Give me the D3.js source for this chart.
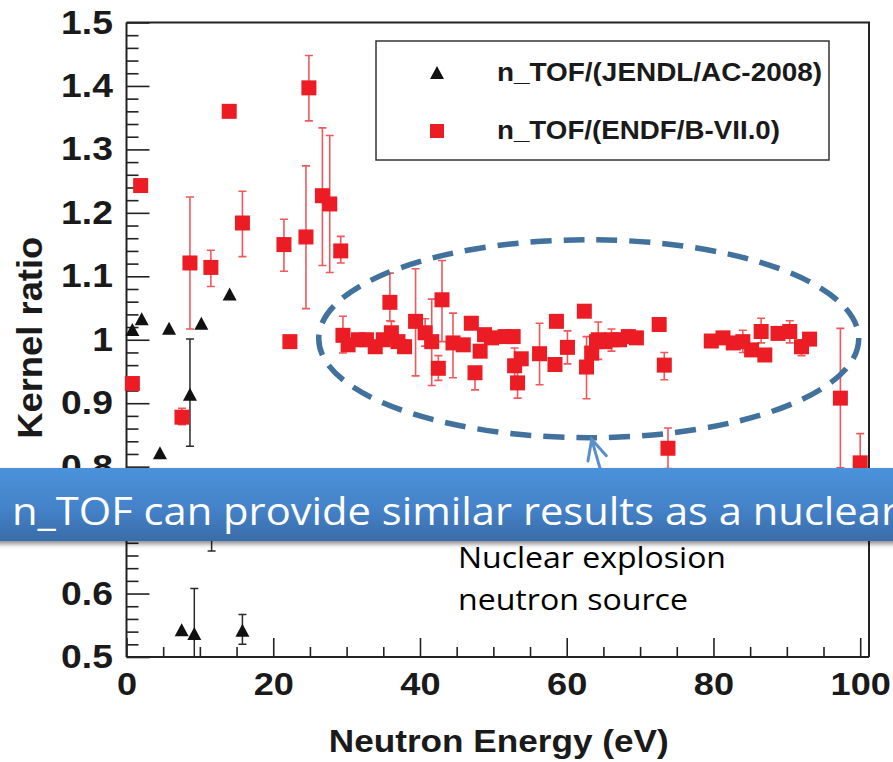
<!DOCTYPE html>
<html>
<head>
<meta charset="utf-8">
<script src="https://cdn.jsdelivr.net/npm/d3@7"></script>
<style>
  html, body { margin: 0; padding: 0; background: #fff; }
  svg { display: block; }
</style>
</head>
<body>
<svg id="chart" width="893" height="762"></svg>
<script>
// ---- n_TOF / JENDL/AC-2008 kernel ratios (black triangles) ----
const jendlEnergy = [0.8, 2.07, 4.56, 5.8, 7.52, 8.65, 9.24, 10.2, 11.6, 14.06, 15.8];
const jendlRatio  = [1.016, 1.033, 0.822, 1.018, 0.543, 0.914, 0.537, 1.026, 0.72, 1.072, 0.542];
const jendlLow    = [null, null, null, null, null, 0.832, 0.466, null, 0.667, null, 0.520];
const jendlHigh   = [null, null, null, null, null, 1.001, 0.608, null, 0.773, null, 0.567];

// ---- n_TOF / ENDF/B-VII.0 kernel ratios (red squares) ----
const endfEnergy = [0.8, 1.93, 7.56, 8.65, 11.5, 14.0, 15.8, 21.46, 22.27, 24.46,
  24.86, 26.7, 27.7, 29.2, 29.5, 30.2, 31.6, 32.7, 33.9, 35.0,
  35.9, 36.1, 37.0, 37.9, 39.4, 40.7, 41.6, 42.5, 43.0, 44.5,
  45.9, 47.0, 47.5, 48.2, 48.8, 49.75, 51.6, 52.7, 52.9, 53.3,
  53.8, 56.3, 58.4, 58.6, 60.1, 62.4, 62.7, 63.4, 64.06, 64.3,
  65.2, 66.1, 67.2, 68.4, 69.5, 72.6, 73.3, 73.8, 79.7, 81.3,
  82.7, 84.0, 85.2, 86.5, 87.0, 88.8, 90.4, 92.0, 93.1, 97.3,
  100.0];
const endfRatio = [0.931, 1.243, 0.878, 1.121, 1.114, 1.360, 1.184, 1.150, 0.997, 1.162,
  1.397, 1.227, 1.214, 1.140, 1.007, 0.992, 1.000, 1.000, 0.989, 1.000,
  1.059, 1.011, 0.997, 0.989, 1.029, 1.011, 0.997, 0.955, 1.063, 0.995,
  0.992, 1.026, 0.948, 0.982, 1.008, 1.003, 1.005, 1.005, 0.959, 0.932,
  0.970, 0.978, 0.961, 1.029, 0.988, 1.045, 0.957, 0.979, 0.997, 1.000,
  0.997, 1.000, 1.000, 1.005, 1.003, 1.024, 0.960, 0.829, 0.998, 1.003,
  0.995, 0.997, 0.984, 1.013, 0.976, 1.010, 1.013, 0.989, 1.001, 0.908,
  0.806];
const endfLow = [null, null, 0.866, 1.017, 1.084, null, 1.131, 1.108, null, 1.049,
  1.345, 1.117, 1.106, 1.121, 0.979, null, null, null, null, null,
  1.030, 0.995, null, 0.979, 0.943, 0.990, 0.928, 0.936, 0.997, 0.940,
  null, null, 0.921, null, null, null, null, null, 0.940, 0.908,
  null, 0.929, null, null, 0.962, null, 0.907, null, null, 0.969,
  null, 0.982, null, null, null, null, 0.937, 0.797, null, null,
  null, 0.980, null, 0.995, null, null, 0.995, 0.975, null, 0.798,
  0.760];
const endfHigh = [null, null, 0.892, 1.225, 1.141, null, 1.234, 1.190, null, 1.274,
  1.448, 1.334, 1.322, 1.163, 1.037, null, null, null, null, null,
  1.105, 1.029, null, 1.000, 1.112, 1.033, 1.064, 0.975, 1.125, 1.042,
  null, null, 0.955, null, null, null, null, null, 0.987, 0.950,
  null, 1.026, null, null, 1.014, null, 1.005, null, null, 1.028,
  null, 1.017, null, null, null, null, 0.980, 0.861, null, null,
  null, 1.015, null, 1.034, null, null, 1.030, 1.000, null, 1.018,
  0.852];

// ---- axes ----
const xTickValues = [0, 20, 40, 60, 80, 100];
const xTickLabels = ["0", "20", "40", "60", "80", "100"];
const yTickValues = [0.5, 0.6, 0.7, 0.8, 0.9, 1.0, 1.1, 1.2, 1.3, 1.4, 1.5];
const yTickLabels = ["0.5", "0.6", "0.7", "0.8", "0.9", "1", "1.1", "1.2", "1.3", "1.4", "1.5"];

const seriesNames = ["n_TOF/(JENDL/AC-2008)", "n_TOF/(ENDF/B-VII.0)"];
const xTitle = "Neutron Energy (eV)";
const yTitle = "Kernel ratio";
const bannerText = "n_TOF can provide similar results as a nuclear";
const noteLines = ["Nuclear explosion", "neutron source"];

const RED = "#ec1c24", RED_BAR = "#f0585b", BLACK = "#111", AXIS = "#222";
const BOLD = "'Liberation Sans', Arial, Helvetica, sans-serif";
const SANS = "'Open Sans', 'Noto Sans', sans-serif";
const STRETCH = 1.13;

const svg = d3.select("#chart");
const x = d3.scaleLinear().domain([0, 101.2]).range([126.5, 869]);
const y = d3.scaleLinear().domain([0.5, 1.5]).range([657, 22.5]);
const [x0, x1] = x.range();
const [y0, y1] = y.range();

// banner band (the label strip drawn across the lower part of the plot)
const band = { top: 468, height: 73 };

const defs = svg.append("defs");
defs.append("clipPath").attr("id", "plotClip")
  .append("rect").attr("x", x0).attr("y", y1).attr("width", x1 - x0).attr("height", y0 - y1);

// frame (top & right)
svg.append("path")
  .attr("d", `M${x0},${y1}H${x1}V${y0}`)
  .attr("fill", "none").attr("stroke", AXIS).attr("stroke-width", 2);

function styleAxis(g) {
  g.selectAll(".tick line").attr("stroke", AXIS).attr("stroke-width", 1.6);
  g.select(".domain").attr("stroke", AXIS).attr("stroke-width", 2);
}

// minor ticks
const xMinor = d3.range(0, 101, 5).filter(v => v % 20 !== 0);
const yMinor = d3.range(0.5, 1.5001, 0.02).filter(v => Math.abs(Math.round(v * 10) - v * 10) > 1e-6);

svg.append("g").attr("transform", `translate(0,${y0})`)
  .call(d3.axisBottom(x).tickValues(xMinor).tickSize(-10).tickSizeOuter(0).tickFormat(""))
  .call(g => { g.select(".domain").remove(); styleAxis(g); });
svg.append("g").attr("transform", `translate(${x0},0)`)
  .call(d3.axisLeft(y).tickValues(yMinor).tickSize(-12).tickSizeOuter(0).tickFormat(""))
  .call(g => { g.select(".domain").remove(); styleAxis(g); });

// major ticks with labels
const gx = svg.append("g").attr("transform", `translate(0,${y0})`)
  .call(d3.axisBottom(x).tickValues(xTickValues).tickSize(-19).tickSizeOuter(0)
    .tickPadding(15).tickFormat((d, i) => xTickLabels[i]));
styleAxis(gx);
gx.select(".domain").attr("d", `M${x0},0H${x1}`);
gx.selectAll("text").attr("font-family", BOLD).attr("font-weight", "bold")
  .attr("font-size", 32).attr("fill", "#1a1a1a").attr("transform", `scale(${STRETCH},1)`);

const gy = svg.append("g").attr("transform", `translate(${x0},0)`)
  .call(d3.axisLeft(y).tickValues(yTickValues).tickSize(-23).tickSizeOuter(0)
    .tickPadding(12).tickFormat((d, i) => yTickLabels[i]));
styleAxis(gy);
gy.select(".domain").attr("d", `M0,${y0}V${y1}`);
gy.selectAll("text").attr("font-family", BOLD).attr("font-weight", "bold")
  .attr("font-size", 33).attr("fill", "#1a1a1a").attr("transform", `scale(${STRETCH},1)`);
// a label whose tick sits inside the banner band is covered by the banner
gy.selectAll(".tick")
  .filter(d => y(d) > band.top + 8 && y(d) < band.top + band.height + 4)
  .select("text").remove();

// axis titles
svg.append("text").attr("x", (x0 + x1) / 2 + 1).attr("y", 752)
  .attr("text-anchor", "middle").attr("font-family", BOLD).attr("font-weight", "bold")
  .attr("font-size", 32).attr("fill", "#1a1a1a")
  .attr("textLength", 340).attr("lengthAdjust", "spacingAndGlyphs").text(xTitle);
svg.append("text").attr("transform", `translate(42,${(y0 + y1) / 2 - 2}) rotate(-90)`)
  .attr("text-anchor", "middle").attr("font-family", BOLD).attr("font-weight", "bold")
  .attr("font-size", 35).attr("fill", "#1a1a1a")
  .attr("textLength", 202).attr("lengthAdjust", "spacingAndGlyphs").text(yTitle);

// legend
const legend = svg.append("g");
legend.append("rect").attr("x", 376).attr("y", 41).attr("width", 453).attr("height", 119)
  .attr("fill", "#fff").attr("stroke", "#333").attr("stroke-width", 1.5);
const triPath = (cx, cy) => `M${cx - 7},${cy + 6.5}L${cx + 7},${cy + 6.5}L${cx},${cy - 6.5}Z`;
legend.append("path").attr("d", triPath(437, 72.5)).attr("fill", BLACK);
legend.append("rect").attr("x", 437 - 7).attr("y", 131 - 7).attr("width", 14).attr("height", 14).attr("fill", RED);
legend.selectAll("text.lbl").data(seriesNames).join("text")
  .attr("x", 497).attr("y", (d, i) => i === 0 ? 80.5 : 138.5)
  .attr("font-family", BOLD).attr("font-weight", "bold").attr("font-size", 26).attr("fill", "#1a1a1a")
  .attr("textLength", (d, i) => i === 0 ? 325 : 283).attr("lengthAdjust", "spacingAndGlyphs")
  .text(d => d);

// data
const jendl = jendlEnergy.map((e, i) => ({ e, r: jendlRatio[i], lo: jendlLow[i], hi: jendlHigh[i] }));
const endf = endfEnergy.map((e, i) => ({ e, r: endfRatio[i], lo: endfLow[i], hi: endfHigh[i] }));

function errorBars(g, data, color, width) {
  const withErr = data.filter(d => d.lo !== null);
  const cap = 4;
  g.selectAll("path.err").data(withErr).join("path")
    .attr("d", d => {
      const cx = x(d.e), ya = y(d.hi), yb = y(d.lo);
      return `M${cx},${ya}V${yb}M${cx - cap},${ya}H${cx + cap}M${cx - cap},${yb}H${cx + cap}`;
    })
    .attr("fill", "none").attr("stroke", color).attr("stroke-width", width);
}

const errG = svg.append("g").attr("clip-path", "url(#plotClip)");
errorBars(errG.append("g"), jendl, "#2a2a2a", 1.5);
errorBars(errG.append("g"), endf, RED_BAR, 1.6);

svg.append("g").selectAll("path").data(jendl).join("path")
  .attr("d", d => triPath(x(d.e), y(d.r))).attr("fill", BLACK);
svg.append("g").selectAll("rect").data(endf).join("rect")
  .attr("x", d => x(d.e) - 7.5).attr("y", d => y(d.r) - 7.5)
  .attr("width", 15).attr("height", 15).attr("fill", RED);

// dashed ellipse around the 30–95 eV band
const ell = { e: 63.0, r: 1.0016, de: 36.8, dr: 0.156 };
svg.append("ellipse")
  .attr("cx", x(ell.e)).attr("cy", y(ell.r))
  .attr("rx", x(ell.e + ell.de) - x(ell.e)).attr("ry", y(ell.r) - y(ell.r + ell.dr))
  .attr("fill", "none").attr("stroke", "#41719c").attr("stroke-width", 5.5)
  .attr("stroke-dasharray", "21 12");

// pointer arrow from the note up to the ellipse
const tip = [x(63.4), y(0.843)], tail = [x(64.6), y(0.795)];
const ang = Math.atan2(tail[1] - tip[1], tail[0] - tip[0]);
const wing = a => [tip[0] + 22 * Math.cos(ang + a), tip[1] + 22 * Math.sin(ang + a)];
const w1 = wing(0.45), w2 = wing(-0.45);
svg.append("path")
  .attr("d", `M${tail}L${tip}M${w1}L${tip}L${w2}`)
  .attr("fill", "none").attr("stroke", "#5b8fcc").attr("stroke-width", 3).attr("stroke-linecap", "round");

// banner
const grad = defs.append("linearGradient").attr("id", "bannerGrad").attr("x1", 0).attr("y1", 0).attr("x2", 0).attr("y2", 1);
grad.append("stop").attr("offset", "0%").attr("stop-color", "#4b92da");
grad.append("stop").attr("offset", "55%").attr("stop-color", "#4482c9");
grad.append("stop").attr("offset", "100%").attr("stop-color", "#3a6ca8");
const shadow = defs.append("filter").attr("id", "bannerShadow").attr("x", "-5%").attr("y", "-20%").attr("width", "110%").attr("height", "160%");
shadow.append("feDropShadow").attr("dx", 0).attr("dy", 3).attr("stdDeviation", 2.5)
  .attr("flood-color", "#000").attr("flood-opacity", 0.45);

svg.append("rect").attr("x", -10).attr("y", band.top).attr("width", 915).attr("height", band.height)
  .attr("fill", "url(#bannerGrad)").attr("filter", "url(#bannerShadow)");
svg.append("text").attr("x", 12).attr("y", 525)
  .attr("font-family", SANS).attr("font-size", 38).attr("fill", "#fff")
  .attr("textLength", 886).attr("lengthAdjust", "spacingAndGlyphs").text(bannerText);

// note under the banner
svg.append("g").selectAll("text").data(noteLines).join("text")
  .attr("x", 458).attr("y", (d, i) => 568 + i * 42)
  .attr("font-family", SANS).attr("font-size", 29).attr("fill", "#000")
  .attr("textLength", (d, i) => i === 0 ? 268 : 230).attr("lengthAdjust", "spacingAndGlyphs")
  .text(d => d);
</script>
</body>
</html>
